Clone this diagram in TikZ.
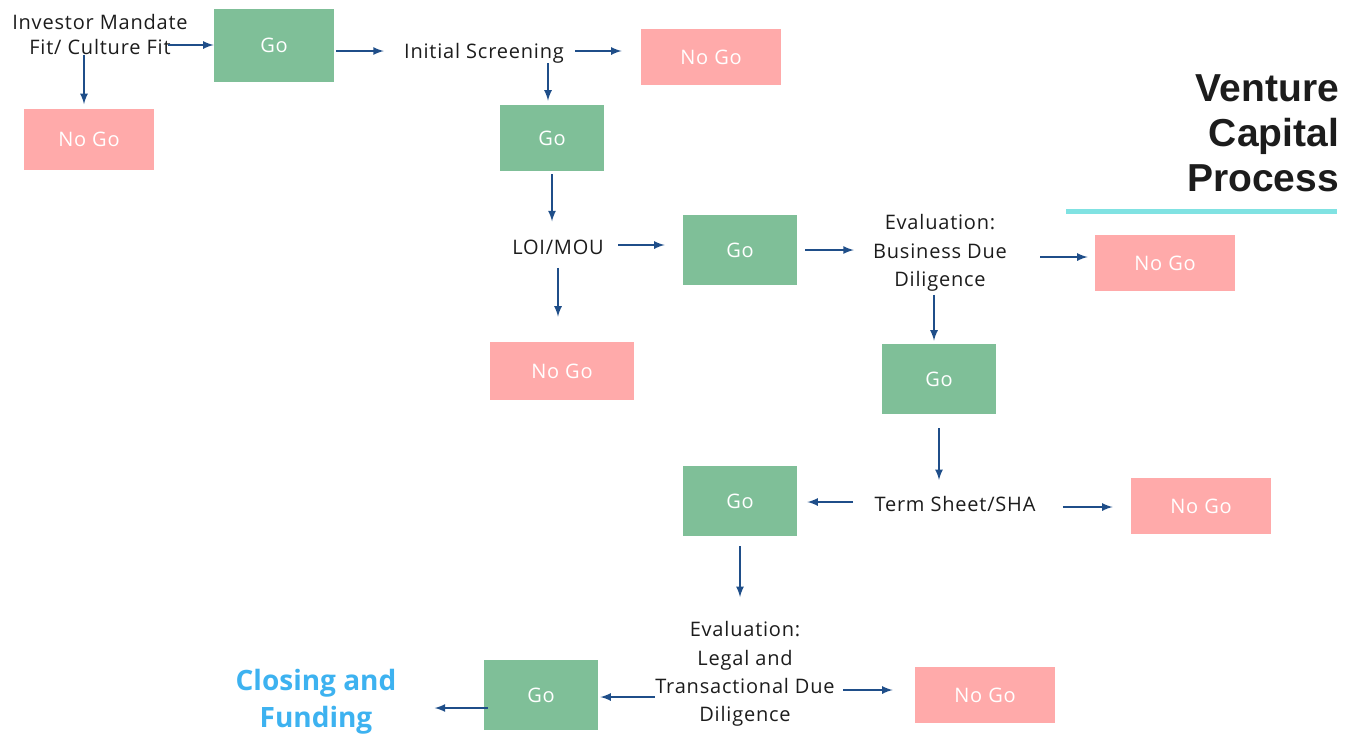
\documentclass[tikz,border=0pt]{standalone}
\usepackage{fontspec}
\setmainfont{Open Sans}
\newfontfamily\labelfont{Open Sans}[LetterSpace=4]
\newfontfamily\titlefont{Liberation Sans}
\usetikzlibrary{arrows,calc}

\definecolor{gogreen}{HTML}{7FBF98}
\definecolor{nogopink}{HTML}{FFAAAA}
\definecolor{flowblue}{HTML}{1F4E89}
\definecolor{closeblue}{HTML}{3DB2F0}
\definecolor{titleline}{HTML}{80E2E2}
\definecolor{labelgray}{HTML}{1C1C1C}

\begin{document}
\begin{tikzpicture}[x=0.5pt,y=-0.5pt]
            \tikzset{
              gobox/.style={fill=gogreen,text=white,inner sep=0pt,
                minimum width=57pt,minimum height=35pt,
                font=\labelfont\fontsize{10}{12}\selectfont},
              nogobox/.style={fill=nogopink,text=white,inner sep=0pt,
                minimum width=70pt,minimum height=28pt,
                font=\labelfont\fontsize{10}{12}\selectfont},
              stage/.style={align=center,inner sep=0pt,text=labelgray,
                font=\labelfont\fontsize{10}{14.2}\selectfont},
              flow/.style={draw=flowblue,line width=0.8pt,-latex}
            }
            \useasboundingbox (0,0) rectangle (1359,741);

            % title
            \node[align=right,anchor=east,text=labelgray,
              font=\titlefont\bfseries\fontsize{19.5}{22.5}\selectfont] (title) at (1346,133)
              {Venture\\Capital\\Process};
            \draw[titleline,line width=2.5pt] (1066,211) -- (1337,211);

            % stages
            \node[stage,font=\labelfont\fontsize{10}{12.5}\selectfont] (mandate) at (100,34)
              {Investor Mandate\\Fit/ Culture Fit};
            \node[stage] (screen) at (484,53) {Initial Screening};
            \node[stage] (loi) at (558,247) {LOI/MOU};
            \node[stage] (evalbiz) at (940,253) {Evaluation:\\Business Due\\Diligence};
            \node[stage] (term) at (955,504) {Term Sheet/SHA};
            \node[stage] (evallegal) at (745,674)
              {Evaluation:\\Legal and\\Transactional Due\\Diligence};
            \node[align=center,inner sep=0pt,text=closeblue,
              font=\bfseries\fontsize{14}{18.5}\selectfont] (closing) at (316,702)
              {Closing and\\Funding};

            % decisions
            \node[gobox,minimum width=60pt,minimum height=36.5pt] (go1) at (274,45) {Go};
            \node[nogobox,minimum width=65pt,minimum height=30.5pt] (nogo1) at (89,139) {No Go};
            \node[nogobox] (nogo2) at (711,57) {No Go};
            \node[gobox,minimum width=52pt,minimum height=33pt] (go2) at (552,138) {Go};
            \node[gobox] (go3) at (740,250) {Go};
            \node[nogobox,minimum width=72pt,minimum height=29pt] (nogo3) at (562,371) {No Go};
            \node[nogobox] (nogo4) at (1165,263) {No Go};
            \node[gobox] (go4) at (939,379) {Go};
            \node[gobox] (go5) at (740,501) {Go};
            \node[nogobox] (nogo5) at (1201,506) {No Go};
            \node[gobox] (go6) at (541,695) {Go};
            \node[nogobox] (nogo6) at (985,695) {No Go};

            % flow
            \draw[flow,shorten <=-10pt] (mandate.east |- go1.west) -- (go1.west);
            \draw[flow,shorten >=2pt] ([xshift=-8pt]mandate.south) -- ([xshift=-8pt]mandate.south |- nogo1.north);
            \draw[flow,shorten <=1pt,shorten >=10pt] ([yshift=1pt]go1.east |- screen) -- ([yshift=1pt]screen.west);
            \draw[flow,shorten <=5.5pt,shorten >=9.5pt] ([yshift=1pt]screen.east) -- ([yshift=1pt]screen.east -| nogo2.west);
            \draw[flow,shorten <=0pt,shorten >=2pt] ([xshift=-2pt]go2.north |- screen.south) -- ([xshift=-2pt]go2.north);
            \draw[flow,shorten <=1.5pt,shorten >=9pt] (go2.south) -- (go2.south |- loi.north);
            \draw[flow,shorten <=7pt,shorten >=9pt] ([yshift=1pt]loi.east) -- ([yshift=1pt]loi.east -| go3.west);
            \draw[flow,shorten <=6.5pt,shorten >=12.5pt] (loi.south) -- (loi.south |- nogo3.north);
            \draw[flow,shorten <=4pt,shorten >=9.5pt] (go3) -- (go3 -| evalbiz.west);
            \draw[flow,shorten <=16.5pt,shorten >=3.5pt] ([yshift=-2pt]evalbiz.east) -- ([yshift=-2pt]evalbiz.east -| nogo4.west);
            \draw[flow,shorten <=1.5pt,shorten >=1.5pt] ([xshift=-2.5pt]go4.north |- evalbiz.south) -- ([xshift=-2.5pt]go4.north);
            \draw[flow,shorten <=7pt,shorten >=8pt] (go4.south) -- (go4.south |- term.north);
            \draw[flow,shorten <=10.5pt,shorten >=5pt] ([yshift=1pt]term.west) -- ([yshift=1pt]term.west -| go5.east);
            \draw[flow,shorten <=13.5pt,shorten >=9pt] ([yshift=-1.5pt]term.east) -- ([yshift=-1.5pt]term.east -| nogo5.west);
            \draw[flow,shorten <=5pt,shorten >=12pt] (go5.south) -- (go5.south |- evallegal.north);
            \draw[flow,shorten <=4pt,shorten >=11pt] ([yshift=-8pt]evallegal.east) -- ([yshift=-8pt]evallegal.east -| nogo6.west);
            \draw[flow,shorten >=1pt] ([yshift=-11.5pt]evallegal.west) -- ([yshift=-11.5pt]evallegal.west -| go6.east);
            \draw[flow,shorten <=-2pt,shorten >=19pt] ([yshift=-6.5pt]go6.west) -- ([yshift=-6.5pt]go6.west -| closing.east);
\end{tikzpicture}
\end{document}
